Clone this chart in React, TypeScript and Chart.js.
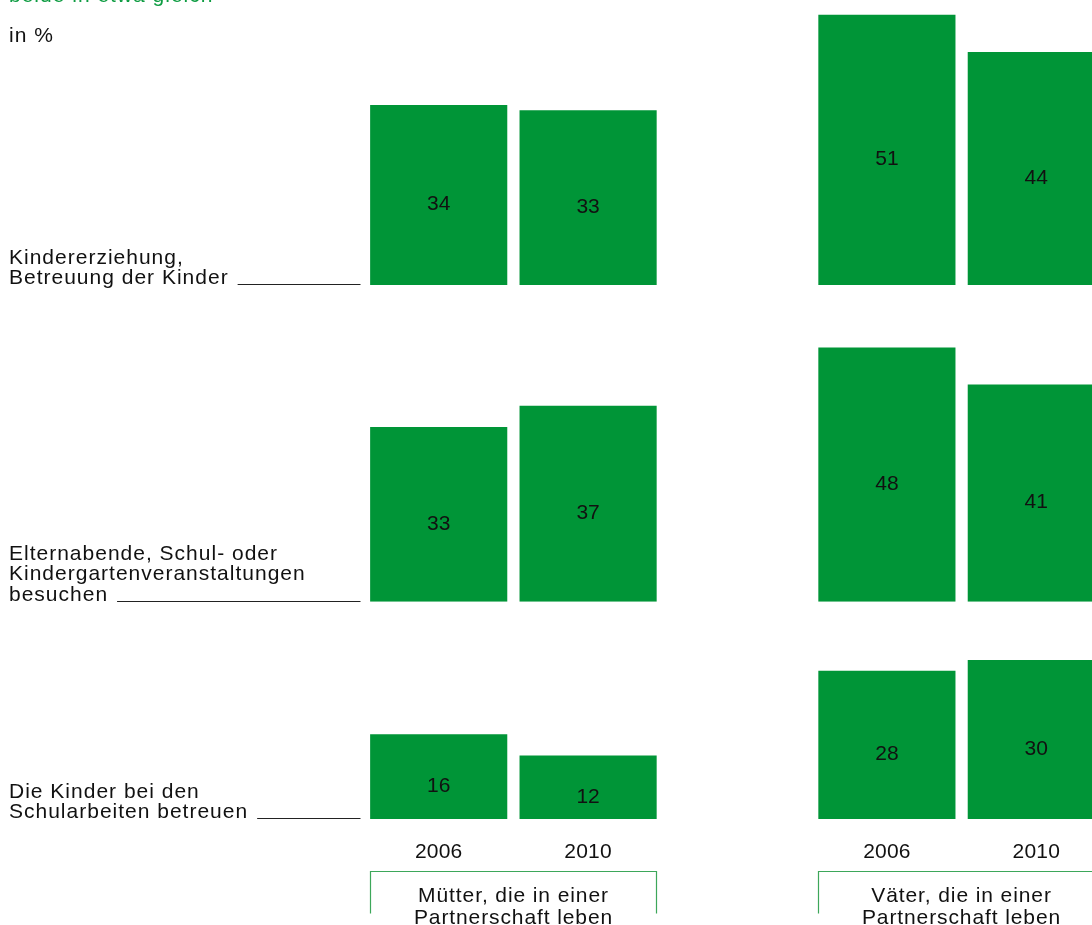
import React, { useEffect, useRef } from "react";
import { Chart, registerables } from "chart.js";

Chart.register(...registerables);

// ---------- data ----------
const categories = ["2006", "2010", "", "2006", "2010"];
const rowLabels = [
  ["Kindererziehung,", "Betreuung der Kinder"],
  ["Elternabende, Schul- oder", "Kindergartenveranstaltungen", "besuchen"],
  ["Die Kinder bei den", "Schularbeiten betreuen"],
];
const muetter2006 = [34, 33, 16];
const muetter2010 = [33, 37, 12];
const vaeter2006 = [51, 48, 28];
const vaeter2010 = [44, 41, 30];
const groupLabels = [
  ["Mütter, die in einer", "Partnerschaft leben"],
  ["Väter, die in einer", "Partnerschaft leben"],
];
const groupCategories = [
  [0, 1],
  [3, 4],
];
const legendText = "beide in etwa gleich";
const unitText = "in %";

// axis extent of each row band (in % units)
const rowAxisMax = [53.8, 59.8, 41];

// ---------- styles ----------
const GREEN = "#009537";
const LINE_GREEN = "#3da75a";
const TEXT = "#111111";
const FONT = '"Liberation Sans", Arial, Helvetica, sans-serif';
const CANVAS_W = 1111;
const CANVAS_H = 925;

const annotations = {
  id: "annotations",
  afterDatasetsDraw(chart: any) {
    const ctx = chart.ctx as CanvasRenderingContext2D;
    const area = chart.chartArea;
    const xs = chart.scales.x;
    ctx.save();

    // value labels
    ctx.font = `21px ${FONT}`;
    ctx.fillStyle = TEXT;
    ctx.textAlign = "center";
    ctx.textBaseline = "middle";
    (ctx as any).letterSpacing = "0px";
    chart.data.datasets.forEach((ds: any, di: number) => {
      const meta = chart.getDatasetMeta(di);
      meta.data.forEach((el: any, i: number) => {
        const v = ds.data[i];
        if (v == null) return;
        const p = el.getProps(["x", "y", "base"], true);
        ctx.fillText(String(v), p.x, (p.y + p.base) / 2 + 9.5);
      });
    });

    // year labels
    (ctx as any).letterSpacing = "0.2px";
    categories.forEach((c, i) => {
      if (!c) return;
      ctx.fillText(c, xs.getPixelForValue(i), area.bottom + 33);
    });

    // group brackets + titles
    const meta0 = chart.getDatasetMeta(0);
    (ctx as any).letterSpacing = "0.9px";
    groupCategories.forEach((pair, g) => {
      const a = meta0.data[pair[0]];
      const b = meta0.data[pair[1]];
      const left = Math.round(a.x - a.width / 2) + 0.5;
      const right = Math.round(b.x + b.width / 2) - 0.5;
      const top = Math.round(area.bottom) + 52.5;
      ctx.strokeStyle = LINE_GREEN;
      ctx.lineWidth = 1.2;
      ctx.beginPath();
      ctx.moveTo(left, top + 42);
      ctx.lineTo(left, top);
      ctx.lineTo(right, top);
      ctx.lineTo(right, top + 42);
      ctx.stroke();
      ctx.fillStyle = TEXT;
      const cx = (left + right) / 2;
      groupLabels[g].forEach((line, li) => {
        ctx.fillText(line, cx, area.bottom + 77.5 + li * 22);
      });
    });

    // row labels with leader lines
    ctx.textAlign = "left";
    ctx.textBaseline = "alphabetic";
    (ctx as any).letterSpacing = "1.0px";
    rowLabels.forEach((lines, r) => {
      const base = chart.scales["y" + r].getPixelForValue(0);
      const lastBaseline = base - 1;
      const n = lines.length;
      lines.forEach((line, li) => {
        ctx.fillText(line, 9, lastBaseline - (n - 1 - li) * 20.5);
      });
      const w = ctx.measureText(lines[n - 1]).width;
      const ly = Math.round(base) - 0.5;
      ctx.strokeStyle = "#222";
      ctx.lineWidth = 1;
      ctx.beginPath();
      ctx.moveTo(9 + w + 9, ly);
      ctx.lineTo(area.left - 3.5, ly);
      ctx.stroke();
    });

    // unit + legend text
    ctx.fillStyle = TEXT;
    ctx.fillText(unitText, 9, 42);
    ctx.fillStyle = "#0e9c42";
    ctx.fillText(legendText, 9, 2);

    ctx.restore();
  },
};

export default function App() {
  const canvasRef = useRef<HTMLCanvasElement | null>(null);

  useEffect(() => {
    if (!canvasRef.current) return;
    const datasets = rowLabels.map((_, r) => ({
      label: rowLabels[r].join(" "),
      data: [muetter2006[r], muetter2010[r], null, vaeter2006[r], vaeter2010[r]],
      yAxisID: "y" + r,
      backgroundColor: GREEN,
      borderWidth: 0,
      grouped: false,
      categoryPercentage: 1,
      barPercentage: 0.918,
    }));

    const scales: any = {
      x: { type: "category", display: false, offset: true },
    };
    rowAxisMax.forEach((m, r) => {
      scales["y" + r] = {
        type: "linear",
        axis: "y",
        position: "left",
        display: false,
        stack: "rows",
        stackWeight: m,
        weight: rowAxisMax.length - r,
        min: 0,
        max: m,
      };
    });

    const chart = new Chart(canvasRef.current, {
      type: "bar",
      data: { labels: categories, datasets },
      options: {
        responsive: false,
        animation: false,
        layout: { padding: { left: 364, right: 0, top: 0, bottom: CANVAS_H - 819 } },
        plugins: { legend: { display: false }, tooltip: { enabled: false } },
        scales,
      },
      plugins: [annotations],
    } as any);

    return () => chart.destroy();
  }, []);

  return (
    <div
      style={{
        position: "fixed",
        left: 0,
        top: 0,
        width: 1092,
        height: 925,
        overflow: "hidden",
        background: "#fff",
      }}
    >
      <canvas
        ref={canvasRef}
        width={CANVAS_W}
        height={CANVAS_H}
        style={{ display: "block", width: CANVAS_W, height: CANVAS_H }}
      />
    </div>
  );
}
